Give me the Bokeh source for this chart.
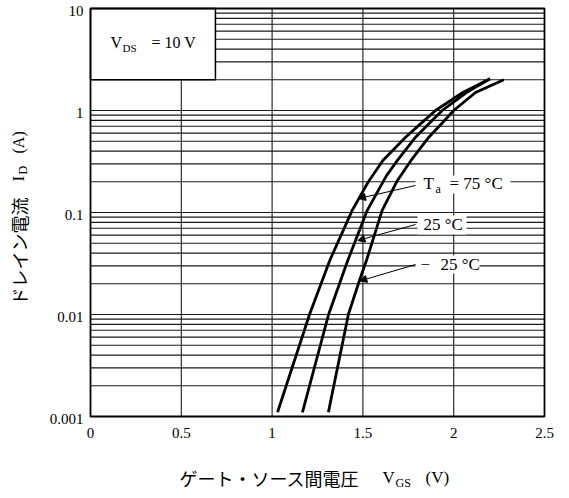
import math
from bokeh.plotting import figure
from bokeh.models import Label, BoxAnnotation, Arrow, NormalHead
from bokeh.core.properties import value
from bokeh.embed import file_html
from bokeh.resources import INLINE

# ---------------- data ----------------
x_ticks = [0, 0.5, 1, 1.5, 2, 2.5]
x_tick_labels = ["0", "0.5", "1", "1.5", "2", "2.5"]
y_ticks = [0.001, 0.01, 0.1, 1, 10]
y_tick_labels = ["0.001", "0.01", "0.1", "1", "10"]

vgs_75 = [1.03, 1.206, 1.318, 1.441, 1.53, 1.61, 1.735, 1.817, 1.90, 2.05, 2.20]
id_75 = [0.0011, 0.01, 0.034, 0.105, 0.2, 0.324, 0.547, 0.74, 1.0, 1.5, 2.05]

vgs_25 = [1.167, 1.311, 1.417, 1.524, 1.63, 1.69, 1.79, 1.863, 1.937, 2.07, 2.20]
id_25 = [0.0011, 0.01, 0.034, 0.105, 0.23, 0.324, 0.547, 0.74, 1.0, 1.5, 2.05]

vgs_m25 = [1.31, 1.42, 1.48, 1.52, 1.606, 1.69, 1.765, 1.863, 1.933, 2.0, 2.12, 2.276]
id_m25 = [0.0011, 0.01, 0.0213, 0.034, 0.105, 0.206, 0.324, 0.547, 0.74, 1.0, 1.5, 2.0]

# arrow tips on the curves (V, A)
tip_75 = (1.476, 0.137)
tip_25 = (1.472, 0.0531)
tip_m25 = (1.483, 0.0213)

# axis limits and info box (data coordinates)
x_min, x_max = 0.0, 2.5
y_min, y_max = 0.001, 10.0
box_left, box_right, box_bottom, box_top = 0.0, 0.688, 2.0, 10.0

# grid positions
x_grid = [0.5, 1, 1.5, 2]
y_grid = [m * 10.0 ** e for e in range(-3, 1) for m in range(1, 10)]

# ---------------- layout ----------------
W, H = 569, 498
FR_L, FR_R, FR_T, FR_B = 90, 544, 8, 416          # data-area in canvas pixels
px_per_v = (FR_R - FR_L) / (x_max - x_min)
px_per_dec = (FR_B - FR_T) / (math.log10(y_max) - math.log10(y_min))
x_range = (x_min - FR_L / px_per_v, x_max + (W - FR_R) / px_per_v)
y_range = (10 ** (math.log10(y_min) - (H - FR_B) / px_per_dec),
           10 ** (math.log10(y_max) + FR_T / px_per_dec))

SERIF = "Liberation Serif"
CJK = "Noto Sans CJK JP"

p = figure(width=W, height=H, x_range=x_range, y_range=y_range,
           y_axis_type="log", x_axis_location=None, y_axis_location=None,
           output_backend="svg", toolbar_location=None, title=None,
           min_border=0)
p.background_fill_color = "white"
p.border_fill_color = "white"
p.outline_line_color = None
p.grid.grid_line_color = None

GRID_COLOR = "#1a1a1a"
# grid lines
p.segment(x0=x_grid, y0=[y_min] * len(x_grid), x1=x_grid, y1=[y_max] * len(x_grid),
          line_color=GRID_COLOR, line_width=1.1)
p.segment(x0=[x_min] * len(y_grid), y0=y_grid, x1=[x_max] * len(y_grid), y1=y_grid,
          line_color=GRID_COLOR, line_width=1.1)

# info box
p.quad(left=[box_left], right=[box_right], bottom=[box_bottom], top=[box_top],
       fill_color="white", line_color="black", line_width=1.5)

# frame
p.quad(left=[x_min], right=[x_max], bottom=[y_min], top=[y_max],
       fill_color=None, line_color="black", line_width=1.8)

# tick labels
p.text(x=x_ticks, y=[y_min] * len(x_ticks), text=x_tick_labels,
       text_font=value(SERIF), text_font_size=value("15px"), text_color="black",
       text_align="center", text_baseline="middle", y_offset=16)
p.text(x=[x_min] * len(y_ticks), y=y_ticks, text=y_tick_labels,
       text_font=value(SERIF), text_font_size=value("15px"), text_color="black",
       text_align="right", text_baseline="middle", x_offset=-7, y_offset=2)

# curves
for xs, ys in ((vgs_75, id_75), (vgs_25, id_25), (vgs_m25, id_m25)):
    p.line(xs, ys, line_width=2.8, line_color="black", line_join="round")

# white backgrounds behind the temperature labels
for (l, r, t, b) in ((415, 510, 175, 193), (417, 466, 215, 234), (415, 479, 255, 273)):
    p.add_layout(BoxAnnotation(left=l, right=r, top=t, bottom=b,
                               left_units="canvas", right_units="canvas",
                               top_units="canvas", bottom_units="canvas",
                               fill_color="white", fill_alpha=1, line_color=None))

# arrows
for (ty, tip) in ((185, tip_75), (224, tip_25), (264, tip_m25)):
    p.add_layout(Arrow(end=NormalHead(size=7, fill_color="black", line_color="black"),
                       x_start=415, y_start=ty, start_units="canvas",
                       x_end=tip[0], y_end=tip[1], end_units="data",
                       line_color="black", line_width=1))


def lab(text, px, py, size, font=SERIF, angle=0.0, align="left"):
    p.add_layout(Label(x=px, y=py, x_units="canvas", y_units="canvas",
                       text=text, text_font=font, text_font_size=f"{size}px",
                       text_color="black", text_baseline="middle",
                       text_align=align, angle=angle))


# temperature labels
lab("T", 423, 183, 17)
lab("a", 435, 188, 12)
lab("= 75 °C", 449, 183, 17)
lab("25 °C", 423, 224, 17)
lab("\u2212", 420, 264, 17)
lab("25 °C", 440, 264, 17)

# V_DS label
lab("V", 110, 42, 16)
lab("DS", 122, 47, 11)
lab("= 10 V", 151, 42, 16)

# x axis title
lab("ゲート・ソース間電圧", 179, 477, 18, font=CJK)
lab("V", 382, 477, 17)
lab("GS", 395, 482, 12)
lab("(V)", 425, 477, 17)

# y axis title (rotated)
rot = math.pi / 2
lab("ドレイン電流", 18, 305, 18, font=CJK, angle=rot)
lab("I", 18, 181, 17, angle=rot)
lab("D", 22, 174, 12, angle=rot)
lab("(A)", 18, 153, 16, angle=rot)

open("out.html", "w").write(file_html(p, INLINE))
